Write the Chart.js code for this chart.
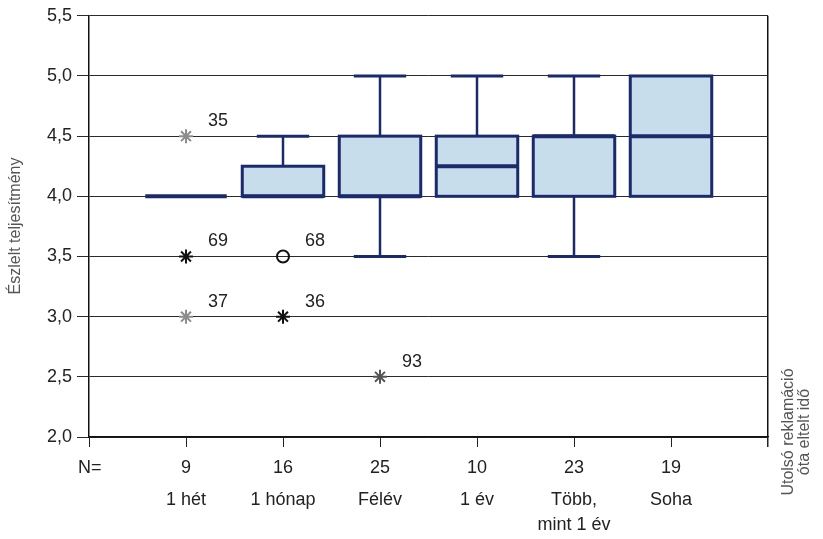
<!DOCTYPE html>
<html>
<head>
<meta charset="utf-8">
<script src="https://cdn.jsdelivr.net/npm/chart.js@4/dist/chart.umd.min.js"></script>
<style>
  html, body { margin: 0; padding: 0; background: #ffffff; }
  #wrap { width: 823px; height: 539px; }
</style>
</head>
<body>
<div id="wrap"><canvas id="c" width="823" height="539"></canvas></div>
<script>
// ---- Data ----
const categories = [["1 hét"], ["1 hónap"], ["Félév"], ["1 év"], ["Több,", "mint 1 év"], ["Soha"]];
const nValues = [9, 16, 25, 10, 23, 19];
const q1Values = [4.0, 4.0, 4.0, 4.0, 4.0, 4.0];
const medianValues = [4.0, 4.0, 4.0, 4.25, 4.5, 4.5];
const q3Values = [4.0, 4.25, 4.5, 4.5, 4.5, 5.0];
const whiskerLow = [4.0, 4.0, 3.5, 4.0, 3.5, 4.0];
const whiskerHigh = [4.0, 4.5, 5.0, 5.0, 5.0, 5.0];

// outliers: category position (1-based), value, case id
const outlierCat = [1, 1, 1, 2, 2, 3];
const outlierValue = [4.5, 3.5, 3.0, 3.5, 3.0, 2.5];
const outlierId = ["35", "69", "37", "68", "36", "93"];
const outlierKind = ["extremeLight", "star", "extremeLight", "circle", "star", "extremeDark"];

const yTickValues = [2.0, 2.5, 3.0, 3.5, 4.0, 4.5, 5.0, 5.5];
const yTickLabels = ["2,0", "2,5", "3,0", "3,5", "4,0", "4,5", "5,0", "5,5"];
const xTickValues = [0, 1, 2, 3, 4, 5, 6, 7];

const yTitle = "Észlelt teljesítmény";
const xTitleLines = ["Utolsó reklamáció", "óta eltelt idő"];
const nLabel = "N=";

// ---- Styling ----
const BOX_STROKE = "#1b2a6b";
const BOX_FILL = "#c8ddec";
const TEXT = "#222222";
const FONT = "'Liberation Sans', Arial, Helvetica, sans-serif";

function pts(kind) {
  const out = [];
  outlierKind.forEach((k, i) => { if (k === kind) out.push({ x: outlierCat[i], y: outlierValue[i] }); });
  return out;
}

const boxPlugin = {
  id: "boxes",
  beforeDatasetsDraw(chart) {
    const { ctx, scales: { x, y } } = chart;
    const half = x.getPixelForValue(0.42) - x.getPixelForValue(0);
    const capHalf = x.getPixelForValue(0.27) - x.getPixelForValue(0);
    ctx.save();
    ctx.strokeStyle = BOX_STROKE;
    ctx.lineCap = "butt";
    for (let i = 0; i < nValues.length; i++) {
      const cx = x.getPixelForValue(i + 1);
      const yq1 = y.getPixelForValue(q1Values[i]);
      const yq3 = y.getPixelForValue(q3Values[i]);
      const ymed = y.getPixelForValue(medianValues[i]);
      const ylo = y.getPixelForValue(whiskerLow[i]);
      const yhi = y.getPixelForValue(whiskerHigh[i]);
      ctx.lineWidth = 2.5;
      if (whiskerHigh[i] > q3Values[i]) {
        ctx.beginPath(); ctx.moveTo(cx, yq3); ctx.lineTo(cx, yhi); ctx.stroke();
        ctx.lineWidth = 3;
        ctx.beginPath(); ctx.moveTo(cx - capHalf, yhi); ctx.lineTo(cx + capHalf, yhi); ctx.stroke();
      }
      ctx.lineWidth = 2.5;
      if (whiskerLow[i] < q1Values[i]) {
        ctx.beginPath(); ctx.moveTo(cx, yq1); ctx.lineTo(cx, ylo); ctx.stroke();
        ctx.lineWidth = 3;
        ctx.beginPath(); ctx.moveTo(cx - capHalf, ylo); ctx.lineTo(cx + capHalf, ylo); ctx.stroke();
      }
      if (q3Values[i] > q1Values[i]) {
        ctx.fillStyle = BOX_FILL;
        ctx.fillRect(cx - half, yq3, 2 * half, yq1 - yq3);
        ctx.lineWidth = 3;
        ctx.strokeRect(cx - half, yq3, 2 * half, yq1 - yq3);
      }
      ctx.lineWidth = 4;
      ctx.beginPath(); ctx.moveTo(cx - half, ymed); ctx.lineTo(cx + half, ymed); ctx.stroke();
    }
    ctx.restore();
  },
  afterDraw(chart) {
    const { ctx, scales: { x, y } } = chart;
    ctx.save();
    ctx.fillStyle = TEXT;
    ctx.font = "18px " + FONT;
    ctx.textBaseline = "middle";
    ctx.textAlign = "left";
    ctx.fillText(nLabel, 78, 468);
    ctx.textAlign = "center";
    for (let i = 0; i < nValues.length; i++) {
      const cx = x.getPixelForValue(i + 1);
      ctx.fillText(String(nValues[i]), cx, 468);
      categories[i].forEach((line, j) => ctx.fillText(line, cx, 500 + j * 25));
    }
    ctx.textAlign = "left";
    for (let i = 0; i < outlierId.length; i++) {
      const px = x.getPixelForValue(outlierCat[i]);
      const py = y.getPixelForValue(outlierValue[i]);
      ctx.fillText(outlierId[i], px + 22, py - 15);
    }
    ctx.fillStyle = "#555555";
    ctx.font = "16px " + FONT;
    ctx.save();
    ctx.translate(16, 226);
    ctx.rotate(-Math.PI / 2);
    ctx.textAlign = "center";
    ctx.fillText(yTitle, 0, 0);
    ctx.restore();
    ctx.save();
    ctx.translate(789, 432);
    ctx.rotate(-Math.PI / 2);
    ctx.textAlign = "center";
    ctx.fillText(xTitleLines[0], 0, 0);
    ctx.fillText(xTitleLines[1], 0, 16);
    ctx.restore();
    ctx.restore();
  }
};

new Chart(document.getElementById("c"), {
  type: "scatter",
  data: {
    datasets: [
      { label: "extreme light", data: pts("extremeLight"), pointStyle: "star", radius: 7, borderColor: "#8c8c8c", borderWidth: 2, backgroundColor: "#8c8c8c" },
      { label: "extreme dark", data: pts("extremeDark"), pointStyle: "star", radius: 7, borderColor: "#555555", borderWidth: 2, backgroundColor: "#555555" },
      { label: "star", data: pts("star"), pointStyle: "star", radius: 7, borderColor: "#111111", borderWidth: 2, backgroundColor: "#111111" },
      { label: "circle", data: pts("circle"), pointStyle: "circle", radius: 6, borderColor: "#111111", borderWidth: 2, backgroundColor: "rgba(0,0,0,0)" }
    ]
  },
  options: {
    responsive: false,
    animation: false,
    layout: { padding: { top: 15, right: 55, left: 0, bottom: 0 } },
    plugins: { legend: { display: false }, tooltip: { enabled: false }, title: { display: false } },
    scales: {
      x: {
        type: "linear",
        min: 0, max: 7,
        afterBuildTicks: s => { s.ticks = xTickValues.map(v => ({ value: v })); },
        afterFit: s => { s.height = 102; },
        ticks: { callback: () => "", font: { size: 10 } },
        grid: {
          drawOnChartArea: true,
          color: c => (c.tick && c.tick.value === 7) ? "#111111" : "rgba(0,0,0,0)",
          tickColor: "#222222",
          lineWidth: c => (c.tick && c.tick.value === 7) ? 1.5 : 1,
          tickLength: 10
        },
        border: { display: true, color: "#111111", width: 1.5 }
      },
      y: {
        type: "linear",
        min: 2, max: 5.5,
        afterBuildTicks: s => { s.ticks = yTickValues.map(v => ({ value: v })); },
        afterFit: s => { s.width = 89; },
        ticks: {
          callback: (v, i) => yTickLabels[i],
          font: { size: 18, family: FONT },
          color: TEXT,
          padding: 5
        },
        grid: { color: "#2a2a2a", lineWidth: 1, tickLength: 12 },
        border: { display: true, color: "#111111", width: 1.5 }
      }
    }
  },
  plugins: [boxPlugin]
});
</script>
</body>
</html>
